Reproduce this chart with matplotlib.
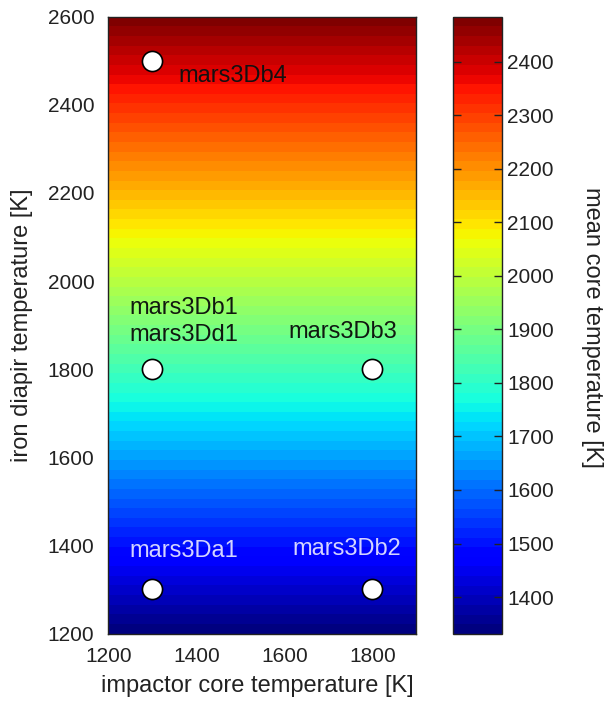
import numpy as np
import matplotlib
matplotlib.use("Agg")
import matplotlib.pyplot as plt
from matplotlib.colors import Normalize

plt.rcParams['font.family'] = ['Liberation Sans', 'DejaVu Sans']

# ---- data ----
grid_impactor_T = [1200, 1900]            # x extent of the field
grid_diapir_T = [1200, 2600]              # y extent of the field
grid_mean_core_T = [1331, 2484]           # mean core temperature along diapir temperature

run_impactor_T = [1300, 1300, 1800, 1300, 1800]
run_diapir_T = [2500, 1800, 1800, 1300, 1300]

label_texts = ["mars3Db4", "mars3Db1", "mars3Dd1", "mars3Db3", "mars3Da1", "mars3Db2"]
label_x = [1359, 1249, 1249, 1609, 1249, 1619]
label_y = [2452, 1925, 1864, 1870, 1374, 1378]
label_colors = ["#141010", "#101810", "#101810", "#101810", "#d4d4ff", "#d4d4ff"]

x_ticks = [1200, 1400, 1600, 1800]
y_ticks = [1200, 1400, 1600, 1800, 2000, 2200, 2400, 2600]
cb_ticks = [1400, 1500, 1600, 1700, 1800, 1900, 2000, 2100, 2200, 2300, 2400]

# ---- figure ----
W, H = 607, 702
fig = plt.figure(figsize=(W / 100, H / 100), dpi=100)

def px_axes(l, t, r, b):
    return fig.add_axes([l / W, 1 - b / H, (r - l) / W, (b - t) / H])

ax = px_axes(108.3, 16.7, 416.3, 633.5)
cax = px_axes(452.7, 16.7, 501.7, 634.0)

X, Y = np.meshgrid(grid_impactor_T, grid_diapir_T)
Z = np.tile(np.array(grid_mean_core_T, dtype=float)[:, None], (1, len(grid_impactor_T)))

vmin, vmax = grid_mean_core_T[0], grid_mean_core_T[-1]
cmap = plt.get_cmap('jet', 64)
levels = np.linspace(vmin, vmax, 65)
cs = ax.contourf(X, Y, Z, levels=levels, cmap=cmap, norm=Normalize(vmin, vmax))

ax.plot(run_impactor_T, run_diapir_T, 'o', ms=14.5, mfc='white', mec='black', mew=1.2, zorder=5)

for t, x, y, c in zip(label_texts, label_x, label_y, label_colors):
    ax.text(x, y, t, color=c, fontsize=17, ha='left', va='baseline', zorder=6)

ax.set_xlim(grid_impactor_T[0], grid_impactor_T[-1])
ax.set_ylim(grid_diapir_T[0], grid_diapir_T[-1])
ax.set_xticks(x_ticks)
ax.set_yticks(y_ticks)
ax.tick_params(length=0, labelsize=15, pad=10, colors='#222222')
for s in ax.spines.values():
    s.set_color('#222222')
    s.set_linewidth(1.0)

cb = fig.colorbar(cs, cax=cax)
cb.set_ticks(cb_ticks)
cax.tick_params(axis='y', direction='in', length=6, width=1.0, left=True, right=True,
                labelleft=False, labelright=True, labelsize=15, pad=4, colors='#222222')
cax.minorticks_off()
cb.outline.set_edgecolor('#222222')
cb.outline.set_linewidth(1.0)

fig.text(257 / W, 1 - 686 / H, "impactor core temperature [K]", ha='center', va='center',
         fontsize=17, color='#222222')
fig.text(22 / W, 1 - 325 / H, "iron diapir temperature [K]", ha='center', va='center',
         rotation=90, fontsize=17, color='#222222')
fig.text(592 / W, 1 - 327 / H, "mean core temperature [K]", ha='center', va='center',
         rotation=270, fontsize=17, color='#222222')

fig.savefig("out.png", dpi=100)
